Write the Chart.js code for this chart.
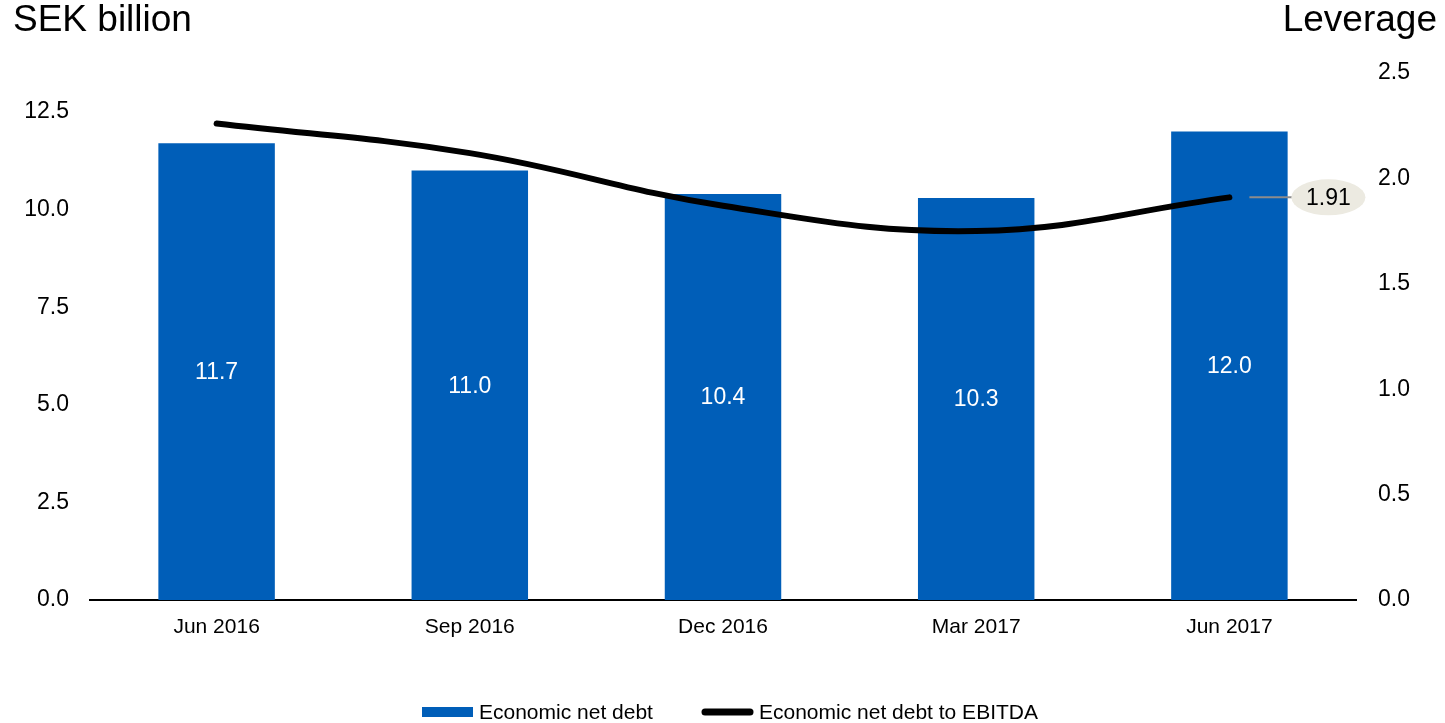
<!DOCTYPE html>
<html>
<head>
<meta charset="utf-8">
<script src="https://cdn.jsdelivr.net/npm/chart.js@4.4.1/dist/chart.umd.min.js"></script>
<style>
  html, body { margin: 0; padding: 0; background: #fff; }
  #wrap { width: 1445px; height: 723px; }
</style>
</head>
<body>
<div id="wrap"><canvas id="grafica" width="1445" height="723"></canvas></div>
<script>
const categorias = ['Jun 2016', 'Sep 2016', 'Dec 2016', 'Mar 2017', 'Jun 2017'];
const deudaNeta = [11.7, 11.0, 10.4, 10.3, 12.0];
const apalancamiento = [2.26, 2.12, 1.87, 1.75, 1.91];
const ticksIzq = [0, 2.5, 5, 7.5, 10, 12.5];
const ticksDer = [0, 0.5, 1, 1.5, 2, 2.5];
const nombres = ['Economic net debt', 'Economic net debt to EBITDA'];
const tituloIzq = 'SEK billion';
const tituloDer = 'Leverage';

const AZUL = '#005EB8';
const FUENTE = 'Arial, "Liberation Sans", sans-serif';

// textos, etiquetas de barras, globo del último valor y leyenda
const extras = {
    id: 'extras',
    afterDatasetsDraw(chart) {
        const ctx = chart.ctx;
        ctx.save();

        ctx.fillStyle = '#000';
        ctx.textBaseline = 'middle';
        ctx.font = '37px ' + FUENTE;
        ctx.textAlign = 'left';
        ctx.fillText(tituloIzq, 13, 21);
        ctx.textAlign = 'right';
        ctx.fillText(tituloDer, 1437, 21);

        // valores dentro de las barras
        const barras = chart.getDatasetMeta(1).data;
        ctx.font = '23px ' + FUENTE;
        ctx.fillStyle = '#fff';
        ctx.textAlign = 'center';
        barras.forEach((b, i) => {
            const y = (b.y + b.base) / 2;
            ctx.fillText(deudaNeta[i].toFixed(1), b.x, y + 1);
        });

        // globo con el último apalancamiento
        const puntos = chart.getDatasetMeta(0).data;
        const ult = puntos[puntos.length - 1];
        const cx = ult.x + 99;
        ctx.strokeStyle = '#8c8c8c';
        ctx.lineWidth = 2;
        ctx.beginPath();
        ctx.moveTo(ult.x + 20, ult.y);
        ctx.lineTo(cx - 36, ult.y);
        ctx.stroke();
        ctx.fillStyle = '#ECEAE1';
        ctx.beginPath();
        ctx.ellipse(cx, ult.y, 37, 18, 0, 0, Math.PI * 2);
        ctx.fill();
        ctx.fillStyle = '#000';
        ctx.font = '23px ' + FUENTE;
        ctx.fillText(apalancamiento[apalancamiento.length - 1].toFixed(2), cx, ult.y + 1);

        // leyenda
        const yl = 712;
        ctx.fillStyle = AZUL;
        ctx.fillRect(422, yl - 5, 51, 10);
        ctx.fillStyle = '#000';
        ctx.font = '21px ' + FUENTE;
        ctx.textAlign = 'left';
        ctx.fillText(nombres[0], 479, yl + 1);
        ctx.strokeStyle = '#000';
        ctx.lineWidth = 7;
        ctx.lineCap = 'round';
        ctx.beginPath();
        ctx.moveTo(705, yl);
        ctx.lineTo(750, yl);
        ctx.stroke();
        ctx.fillText(nombres[1], 759, yl + 1);

        ctx.restore();
    }
};

const ctx = document.getElementById('grafica').getContext('2d');
new Chart(ctx, {
    data: {
        labels: categorias,
        datasets: [{
            type: 'line',
            label: nombres[1],
            data: apalancamiento,
            yAxisID: 'yDer',
            borderColor: '#000',
            borderWidth: 6,
            borderCapStyle: 'round',
            tension: 0.4,
            pointRadius: 0,
            fill: false,
            order: 0
        }, {
            type: 'bar',
            label: nombres[0],
            data: deudaNeta,
            yAxisID: 'yIzq',
            backgroundColor: AZUL,
            barPercentage: 0.46,
            categoryPercentage: 1,
            order: 1
        }]
    },
    options: {
        responsive: false,
        animation: false,
        layout: { padding: { top: 73, left: 0, right: 0, bottom: 0 } },
        plugins: {
            legend: { display: false },
            tooltip: { enabled: false }
        },
        scales: {
            x: {
                grid: { display: false, drawTicks: false },
                border: { display: true, color: '#000', width: 2 },
                ticks: { color: '#000', padding: 15, font: { size: 21, family: FUENTE } },
                afterFit(s) { s.height = 123; }
            },
            yIzq: {
                position: 'left',
                min: 0,
                max: 13.5,
                grid: { display: false, drawTicks: false },
                border: { display: false },
                afterBuildTicks(s) { s.ticks = ticksIzq.map(v => ({ value: v })); },
                ticks: {
                    color: '#000', padding: 21, font: { size: 23, family: FUENTE },
                    callback: v => Number(v).toFixed(1)
                },
                afterFit(s) { s.width = 90; }
            },
            yDer: {
                position: 'right',
                min: 0,
                max: 2.5,
                grid: { display: false, drawTicks: false },
                border: { display: false },
                afterBuildTicks(s) { s.ticks = ticksDer.map(v => ({ value: v })); },
                ticks: {
                    color: '#000', padding: 22, font: { size: 23, family: FUENTE },
                    callback: v => Number(v).toFixed(1)
                },
                afterFit(s) { s.width = 89; }
            }
        }
    },
    plugins: [extras]
});
</script>
</body>
</html>
